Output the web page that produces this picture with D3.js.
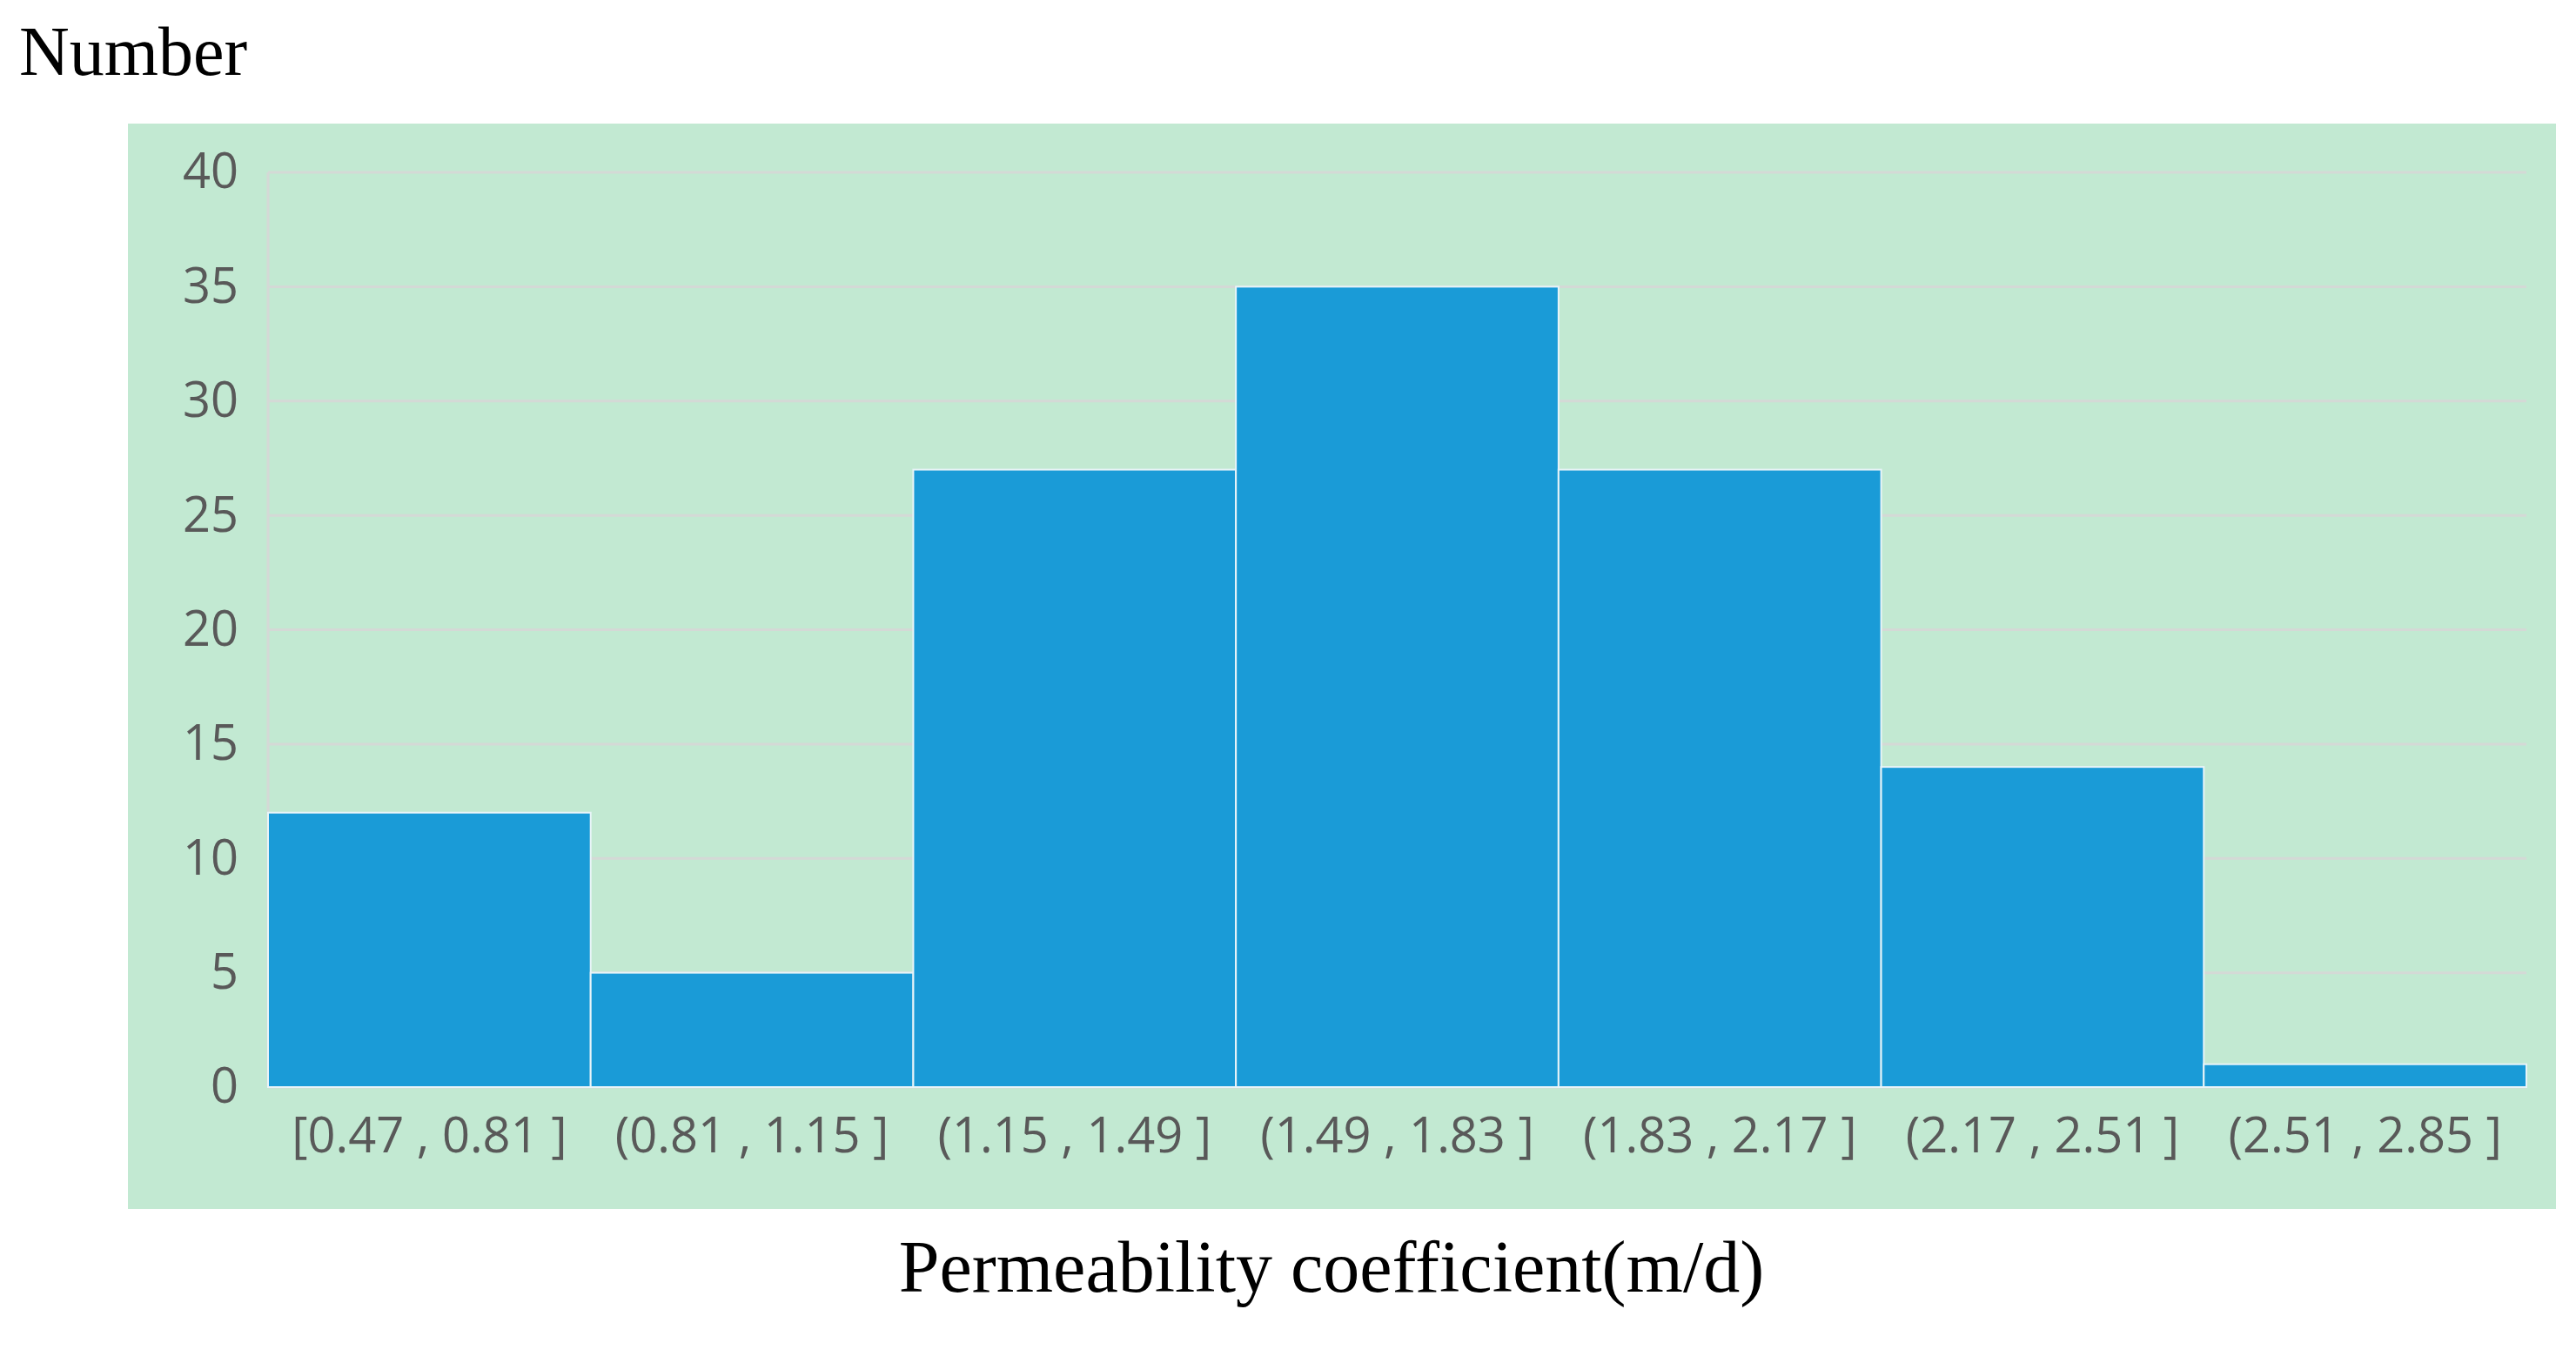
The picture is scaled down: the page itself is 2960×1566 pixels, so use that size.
<!DOCTYPE html>
<html><head><meta charset="utf-8">
<script src="https://cdn.jsdelivr.net/npm/d3@7"></script>
<style>body{margin:0;background:#fff}</style>
</head><body><div id="chart"></div>
<script>
const bins = ["[0.47 , 0.81 ]", "(0.81 , 1.15 ]", "(1.15 , 1.49 ]", "(1.49 , 1.83 ]", "(1.83 , 2.17 ]", "(2.17 , 2.51 ]", "(2.51 , 2.85 ]"];
const counts = [12, 5, 27, 35, 27, 14, 1];
const yTicks = [0, 5, 10, 15, 20, 25, 30, 35, 40];

const W = 2960, H = 1566;
const svg = d3.select("#chart").append("svg").attr("width", W).attr("height", H);
svg.append("rect").attr("x", 147).attr("y", 142).attr("width", 2790).attr("height", 1247).attr("fill", "#c2e9d2");

const x = d3.scaleBand().domain(bins).range([308, 2903]).padding(0);
const y = d3.scaleLinear().domain([0, 40]).range([1249, 198]);

// gridlines
svg.append("g").selectAll("line").data(yTicks).enter().append("line")
  .attr("x1", 308).attr("x2", 2903)
  .attr("y1", d => y(d)).attr("y2", d => y(d))
  .attr("stroke", "#d4d9d6").attr("stroke-width", 3);
svg.append("line").attr("x1", 308).attr("x2", 308).attr("y1", y(40)).attr("y2", y(0))
  .attr("stroke", "#d4d9d6").attr("stroke-width", 3);

svg.append("g").selectAll("rect").data(counts).enter().append("rect")
  .attr("x", (d, i) => x(bins[i]))
  .attr("y", d => y(d))
  .attr("width", x.bandwidth())
  .attr("height", d => y(0) - y(d))
  .attr("fill", "#1a9bd7")
  .attr("stroke", "#e8f4f8").attr("stroke-width", 2);

const yAxis = svg.append("g").attr("transform", "translate(290,0)")
  .call(d3.axisLeft(y).tickValues(yTicks).tickSize(0).tickPadding(16));
yAxis.select(".domain").remove();
yAxis.selectAll("text").attr("fill", "#595959").style("font-family", "Open Sans").style("font-size", "56px");

const xAxis = svg.append("g").attr("transform", "translate(0,1262)")
  .call(d3.axisBottom(x).tickSize(0).tickPadding(22));
xAxis.select(".domain").remove();
xAxis.selectAll("text").attr("fill", "#595959").style("font-family", "Open Sans").style("font-size", "56px");

svg.append("text").attr("x", 22).attr("y", 86).text("Number")
  .style("font-family", "Liberation Serif").style("font-size", "80px").attr("fill", "#000");
svg.append("text").attr("x", 1530).attr("y", 1484).attr("text-anchor", "middle")
  .text("Permeability coefficient(m/d)")
  .style("font-family", "Liberation Serif").style("font-size", "84px").attr("fill", "#000");
</script></body></html>
